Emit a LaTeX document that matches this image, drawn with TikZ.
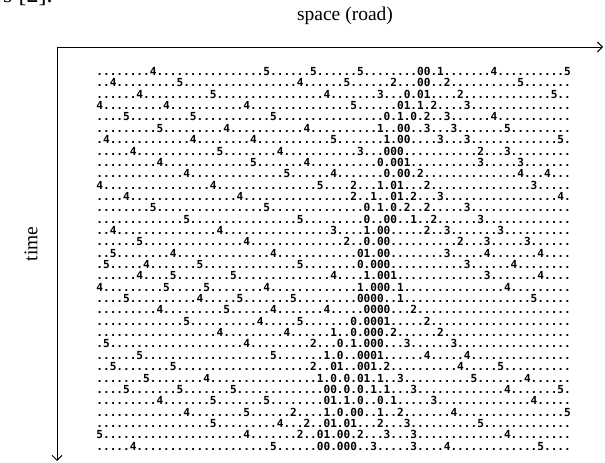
\documentclass[tikz,border=0pt]{standalone}
\usepackage{fontspec}
\setmainfont{Liberation Serif}
\newfontfamily\gridfont{DejaVu Sans Mono}
\usetikzlibrary{arrows.meta}
\ExplSyntaxOn
\int_new:N \l__grid_cur_int
\cs_new_protected:Npn \__grid_item:w #1 / #2 \q_stop
  {
    \prg_replicate:nn { \int_max:nn { 0 } { #1 - \l__grid_cur_int } } { . }
    #2
    \int_set:Nn \l__grid_cur_int { #1 + \str_count:n { #2 } }
  }
\NewDocumentCommand \gridrow { m }
  {
    \int_set:Nn \l__grid_cur_int { 0 }
    \clist_map_inline:nn { #1 } { \__grid_item:w ##1 \q_stop }
    \prg_replicate:nn { \int_max:nn { 0 } { 71 - \l__grid_cur_int } } { . }
  }
\ExplSyntaxOff
\tikzset{
  gridtext/.style={inner sep=0pt, anchor=base west, font=\gridfont\bfseries\fontsize{11.1}{12}\selectfont},
  axis/.style={line width=0.9pt, -{Straight Barb[length=5pt,width=10pt]}},
  lbl/.style={inner sep=0pt, font=\fontsize{19.5}{22}\selectfont}
}
\newcommand\gline[2]{\node[gridtext] (r#1) at (96.2pt, {463pt-(75.6pt+(#1-1)*11.35pt)}) {\gridrow{#2}};}
\begin{document}
\begin{tikzpicture}[x=1pt,y=1pt]
\useasboundingbox (0,0) rectangle (605,463);
\fill[white] (0,0) rectangle (605,463);
\node[lbl, anchor=base west, font=\fontsize{24}{26}\selectfont] (cut) at (3,460.6) {s [2].};
\node[lbl] (xl) at (345,447) {space (road)};
\node[lbl, rotate=90] (tl) at (31,219) {time};
\coordinate (o) at (57,416);
\coordinate (xe) at (603,416);
\coordinate (ye) at (57,2);
\draw[axis] (o) -- (xe);
\draw[axis] (o) -- (ye);
\gline{1}{8/4, 25/5, 32/5, 39/5, 48/00.1, 59/4, 70/5}
\gline{2}{2/4, 12/5, 30/4, 37/5, 44/2, 48/00, 52/2, 63/5}
\gline{3}{6/4, 17/5, 34/4, 42/3, 46/0.01, 54/2, 68/5}
\gline{4}{0/4, 10/4, 22/4, 38/5, 45/01.1.2, 55/3}
\gline{5}{4/5, 14/5, 26/5, 43/0.1.0.2, 52/3, 59/4}
\gline{6}{9/5, 19/4, 31/4, 42/1, 45/00, 49/3, 53/3, 61/5}
\gline{7}{1/4, 14/4, 23/4, 35/5, 43/1, 45/00, 51/3, 55/3, 69/5}
\gline{8}{5/4, 18/5, 27/4, 39/3, 43/000, 57/2, 61/3}
\gline{9}{9/4, 23/5, 31/4, 42/0.001, 57/3, 63/3}
\gline{10}{13/4, 28/5, 35/4, 43/0.00.2, 63/4, 67/4}
\gline{11}{0/4, 17/4, 33/5, 38/2, 42/1.01, 49/2, 65/3}
\gline{12}{4/4, 21/4, 38/2, 41/1, 44/01.2, 51/3, 69/4}
\gline{13}{8/5, 25/5, 40/0.1.0.2, 49/2, 55/3}
\gline{14}{13/5, 30/5, 40/0, 43/00, 47/1, 50/2, 57/3}
\gline{15}{2/4, 18/4, 35/3, 40/1, 42/00, 49/2, 52/3, 60/3}
\gline{16}{6/5, 22/4, 37/2, 40/0.00, 54/2, 58/3, 64/3}
\gline{17}{2/5, 11/4, 26/4, 39/01.00, 52/3, 58/4, 66/4}
\gline{18}{1/5, 7/4, 15/5, 30/5, 39/0.000, 55/3, 62/4}
\gline{19}{6/4, 11/5, 20/5, 35/4, 40/1.001, 58/3, 66/4}
\gline{20}{0/4, 10/5, 16/5, 25/4, 39/1.000.1, 61/4}
\gline{21}{4/5, 15/4, 21/5, 29/5, 39/0000, 45/1, 65/5}
\gline{22}{9/4, 19/5, 26/4, 34/4, 40/0000, 47/2}
\gline{23}{13/5, 24/4, 30/5, 38/0.0001, 49/2}
\gline{24}{18/4, 28/4, 35/1..0.000.2, 51/2}
\gline{25}{1/5, 22/4, 32/2, 36/0.1.000, 46/3, 53/3}
\gline{26}{6/5, 26/5, 34/1, 36/0, 39/0001, 49/4, 55/4}
\gline{27}{2/5, 11/5, 32/2, 35/01, 39/001, 43/2, 54/4, 60/5}
\gline{28}{7/5, 16/4, 33/1, 35/0, 37/0, 39/01, 42/1, 45/3, 56/5, 64/4}
\gline{29}{4/5, 12/5, 20/5, 34/00, 37/0, 39/0, 41/1, 43/1, 47/3, 61/4, 69/5}
\gline{30}{9/4, 17/5, 25/5, 34/01, 37/1, 39/0, 42/0, 44/1, 50/3, 65/4}
\gline{31}{13/4, 22/5, 29/2, 34/1, 36/0, 38/00, 42/1, 45/2, 53/4, 70/5}
\gline{32}{17/5, 27/4, 31/2, 34/01, 37/01, 42/2, 46/3, 57/5}
\gline{33}{0/5, 22/4, 30/2, 33/01, 36/00, 39/2, 43/3, 47/3, 61/4}
\gline{34}{5/4, 26/5, 33/00, 36/000, 41/3, 47/3, 52/4, 66/5}
\end{tikzpicture}
\end{document}
